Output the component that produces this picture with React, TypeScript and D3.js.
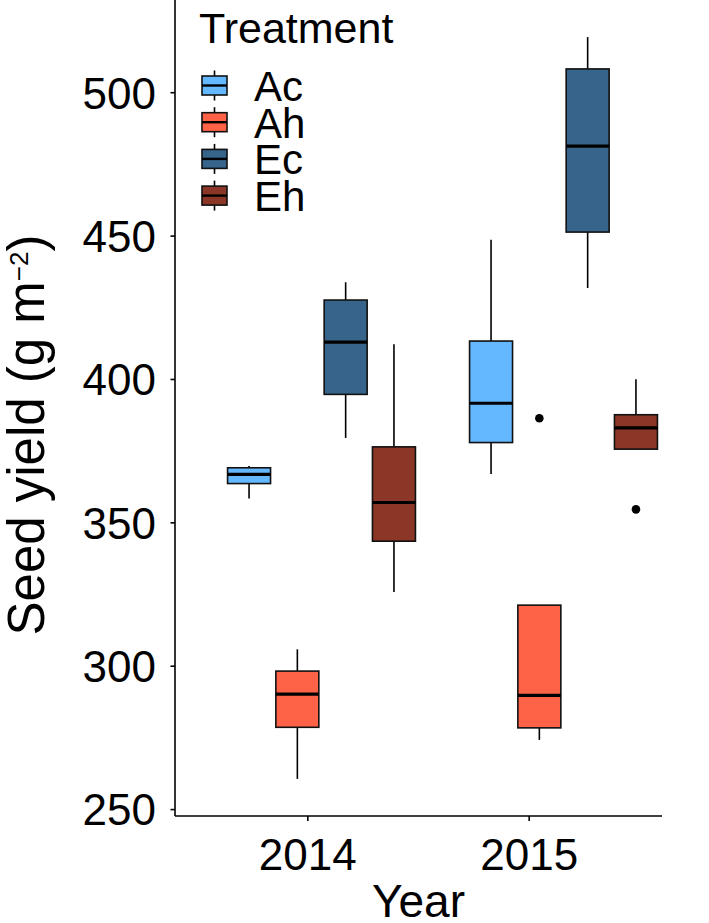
import React from 'react';
import * as d3 from 'd3';

// boxplot stats, order: year then treatment
const years = [2014, 2015];
const treatments = ['Ac', 'Ah', 'Ec', 'Eh'];
const colors = ['#63B8FF', '#FF6347', '#36648B', '#8B3626'];

const lower = [358.5, 260.7, 379.6, 325.9, 367.0, 274.3, 431.9, 375.7];
const q1 = [363.7, 278.7, 394.8, 343.6, 378.0, 278.5, 451.4, 375.7];
const median = [366.9, 290.3, 413.0, 357.1, 391.7, 289.8, 481.4, 383.1];
const q3 = [369.2, 298.3, 427.7, 376.5, 413.4, 321.3, 508.3, 387.7];
const upper = [369.8, 305.9, 433.9, 412.3, 448.7, 321.3, 519.4, 400.1];

const outlierYear = [2015, 2015];
const outlierTreatment = ['Ah', 'Eh'];
const outlierValue = [386.5, 354.7];

const yTicks = [250, 300, 350, 400, 450, 500];

const W = 709;
const H = 923;
const FONT = '"Liberation Sans", Arial, Helvetica, sans-serif';

const App = () => {
  const left = 175;
  const right = 662;
  const top = 0;
  const bottom = 816;

  const boxes = years.flatMap((yr, i) =>
    treatments.map((t, j) => {
      const k = i * treatments.length + j;
      return {
        year: yr,
        treatment: t,
        color: colors[j],
        lo: lower[k],
        q1: q1[k],
        med: median[k],
        q3: q3[k],
        hi: upper[k],
      };
    })
  );

  const allVals = [...lower, ...upper, ...outlierValue];
  const [mn, mx] = d3.extent(allVals) as [number, number];
  const pad = (mx - mn) * 0.05;
  const y = d3.scaleLinear().domain([mn - pad, mx + pad]).range([bottom, top]);

  // axis ticks
  const xAxis = d3
    .scalePoint<string>()
    .domain(years.map(String))
    .range([left, right])
    .padding(0.6);

  // box group centres (shifted relative to the ticks in the original)
  const xGroup = d3.scaleLinear().domain([2014, 2015]).range([321.5, 563.5]);
  const dodge = d3
    .scaleBand<string>()
    .domain(treatments)
    .range([-96.6, 96.6])
    .paddingInner(0.11)
    .paddingOuter(0.055);
  const bw = dodge.bandwidth();
  const cx = (yr: number, t: string) => xGroup(yr) + (dodge(t) as number) + bw / 2;

  const color = d3.scaleOrdinal<string, string>().domain(treatments).range(colors);

  // legend layout
  const legX = 199;
  const legY0 = 85.5;
  const legStep = 36.7;

  return (
    <svg
      width={W}
      height={H}
      style={{ position: 'absolute', left: 0, top: 0, background: '#fff' }}
      fontFamily={FONT}
    >
      {/* boxes */}
      {boxes.map((b, i) => {
        const c = cx(b.year, b.treatment);
        return (
          <g key={i}>
            <line x1={c} x2={c} y1={y(b.hi)} y2={y(b.q3)} stroke="#000" strokeWidth={1.6} />
            <line x1={c} x2={c} y1={y(b.q1)} y2={y(b.lo)} stroke="#000" strokeWidth={1.6} />
            <rect
              x={c - bw / 2}
              y={y(b.q3)}
              width={bw}
              height={y(b.q1) - y(b.q3)}
              fill={b.color}
              stroke="#111"
              strokeWidth={1.6}
            />
            <line
              x1={c - bw / 2}
              x2={c + bw / 2}
              y1={y(b.med)}
              y2={y(b.med)}
              stroke="#000"
              strokeWidth={3.2}
            />
          </g>
        );
      })}

      {/* outliers */}
      {outlierValue.map((v, i) => (
        <circle
          key={i}
          cx={cx(outlierYear[i], outlierTreatment[i])}
          cy={y(v)}
          r={4.3}
          fill="#000"
        />
      ))}

      {/* axes */}
      <line x1={left} x2={left} y1={top} y2={bottom} stroke="#000" strokeWidth={1.6} />
      <line x1={left} x2={right} y1={bottom} y2={bottom} stroke="#000" strokeWidth={1.6} />

      {yTicks.map((t) => (
        <g key={t}>
          <line x1={left - 4.5} x2={left} y1={y(t)} y2={y(t)} stroke="#000" strokeWidth={1.6} />
          <text
            x={156}
            y={y(t)}
            dy="0.36em"
            textAnchor="end"
            fontSize={44}
            fill="#000"
          >
            {t}
          </text>
        </g>
      ))}

      {xAxis.domain().map((d) => (
        <g key={d}>
          <line
            x1={xAxis(d)}
            x2={xAxis(d)}
            y1={bottom}
            y2={bottom + 5}
            stroke="#000"
            strokeWidth={1.6}
          />
          <text x={xAxis(d)} y={870} textAnchor="middle" fontSize={44} fill="#000">
            {d}
          </text>
        </g>
      ))}

      {/* axis titles */}
      <text x={(left + right) / 2} y={917} textAnchor="middle" fontSize={46} fill="#000">
        Year
      </text>
      <text
        transform={`translate(43.5,435) rotate(-90)`}
        textAnchor="middle"
        fontSize={51}
        fill="#000"
      >
        Seed yield (g m
        <tspan fontSize={26} dy={-16}>
          −2
        </tspan>
        <tspan dy={16}>)</tspan>
      </text>

      {/* legend */}
      <text x={legX} y={42.7} fontSize={43} fill="#000">
        Treatment
      </text>
      {treatments.map((t, i) => {
        const cy = legY0 + i * legStep;
        const kx = legX + 15.5;
        return (
          <g key={t}>
            <line x1={kx} x2={kx} y1={cy - 15} y2={cy + 15} stroke="#000" strokeWidth={1.6} />
            <rect
              x={kx - 12.5}
              y={cy - 9.5}
              width={25}
              height={19}
              fill={color(t)}
              stroke="#111"
              strokeWidth={1.6}
            />
            <line x1={kx - 12.5} x2={kx + 12.5} y1={cy} y2={cy} stroke="#000" strokeWidth={2.4} />
            <text x={254} y={cy + 15.5} fontSize={42} fill="#000">
              {t}
            </text>
          </g>
        );
      })}
    </svg>
  );
};

export default App;
